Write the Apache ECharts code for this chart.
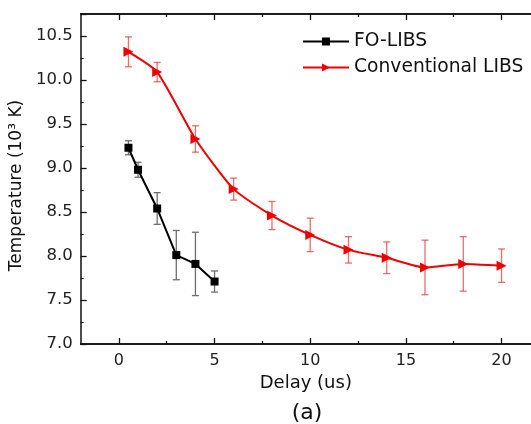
<!DOCTYPE html>
<html>
<head>
<meta charset="utf-8">
<script src="https://cdn.jsdelivr.net/npm/echarts@6/dist/echarts.min.js"></script>
<style>
  html, body { margin: 0; padding: 0; background: #fff; }
  #chart { width: 531px; height: 424px; }
</style>
</head>
<body>
<div id="chart"></div>
<script>
  // FO-LIBS
  var foDelay = [0.5, 1, 2, 3, 4, 5];
  var foTemp = [9.23, 8.98, 8.54, 8.01, 7.91, 7.71];
  var foErr = [0.08, 0.085, 0.18, 0.28, 0.36, 0.12];

  // Conventional LIBS
  var convDelay = [0.5, 2, 4, 6, 8, 10, 12, 14, 16, 18, 20];
  var convTemp = [10.32, 10.09, 9.33, 8.76, 8.46, 8.24, 8.07, 7.98, 7.87, 7.91, 7.89];
  var convErr = [0.17, 0.11, 0.15, 0.125, 0.16, 0.19, 0.15, 0.18, 0.31, 0.31, 0.19];

  // tick labels
  var xMajor = [0, 5, 10, 15, 20];
  var xMinor = [2.5, 7.5, 12.5, 17.5];

  var fontFam = '"DejaVu Sans", sans-serif';

  function pairs(xs, ys) {
    var out = [];
    for (var i = 0; i < xs.length; i++) out.push([xs[i], ys[i]]);
    return out;
  }
  function errData(xs, ys, es) {
    var out = [];
    for (var i = 0; i < xs.length; i++) out.push([xs[i], ys[i] - es[i], ys[i] + es[i]]);
    return out;
  }
  function errRender(color) {
    return function (params, api) {
      var lo = api.coord([api.value(0), api.value(1)]);
      var hi = api.coord([api.value(0), api.value(2)]);
      var w = 3.5;
      var st = { stroke: color, lineWidth: 1.3 };
      return {
        type: 'group',
        children: [
          { type: 'line', shape: { x1: lo[0], y1: lo[1], x2: hi[0], y2: hi[1] }, style: st },
          { type: 'line', shape: { x1: lo[0] - w, y1: lo[1], x2: lo[0] + w, y2: lo[1] }, style: st },
          { type: 'line', shape: { x1: hi[0] - w, y1: hi[1], x2: hi[0] + w, y2: hi[1] }, style: st }
        ]
      };
    };
  }

  var myChart = echarts.init(document.getElementById('chart'));

  // plot runs past the right edge of the picture, so max is cut at the edge
  function xAxisDef(pos, major, withLabels) {
    var ax = {
      type: 'value',
      position: pos,
      min: -2,
      max: 21.54,
      axisLine: { onZero: false, lineStyle: { color: '#111', width: 1.5 } },
      axisTick: { inside: true, length: major ? 6 : 3, customValues: major ? xMajor : xMinor,
        lineStyle: { color: '#111', width: 1.3 } },
      axisLabel: { show: false },
      splitLine: { show: false }
    };
    if (withLabels) {
      ax.name = 'Delay (us)';
      ax.nameLocation = 'middle';
      ax.nameGap = 26;
      ax.nameTextStyle = { fontFamily: fontFam, fontSize: 18, color: '#111' };
      ax.axisLabel = { show: true, customValues: xMajor, fontFamily: fontFam, fontSize: 16, color: '#222', margin: 9 };
    }
    return ax;
  }

  var option = {
    backgroundColor: '#fff',
    animation: false,
    grid: { left: 79, top: 14, right: 0, bottom: 80 },
    legend: {
      orient: 'vertical',
      left: 302,
      top: 32,
      padding: 0,
      itemWidth: 46,
      itemHeight: 10,
      itemGap: 7,
      data: ['FO-LIBS', 'Conventional LIBS'],
      textStyle: { fontFamily: fontFam, fontSize: 18.7, color: '#111' }
    },
    xAxis: [
      xAxisDef('bottom', true, true),
      xAxisDef('bottom', false, false),
      xAxisDef('top', true, false),
      xAxisDef('top', false, false)
    ],
    yAxis: {
      type: 'value',
      min: 7,
      max: 10.75,
      interval: 0.5,
      name: 'Temperature (10\u00B3 K)',
      nameLocation: 'middle',
      nameGap: 47,
      nameTextStyle: { fontFamily: fontFam, fontSize: 17, color: '#111', padding: [0, 13, 0, 0] },
      axisLine: { show: true, onZero: false, lineStyle: { color: '#111', width: 1.5 } },
      axisTick: { inside: true, length: 6, lineStyle: { color: '#111', width: 1.3 } },
      minorTick: { show: true, splitNumber: 2, length: 3, lineStyle: { color: '#111', width: 1.2 } },
      axisLabel: { fontFamily: fontFam, fontSize: 16.5, color: '#222', margin: 8, showMaxLabel: false,
        formatter: function (v) { return v.toFixed(1); } },
      splitLine: { show: false }
    },
    graphic: [{
      type: 'text',
      x: 307,
      y: 413,
      style: { text: '(a)', fontFamily: fontFam, fontSize: 22, fill: '#111', align: 'center', verticalAlign: 'middle' }
    }],
    series: [
      {
        name: 'FO-LIBS err',
        type: 'custom',
        renderItem: errRender('#6e6e6e'),
        data: errData(foDelay, foTemp, foErr),
        encode: { x: 0, y: [1, 2] },
        z: 1
      },
      {
        name: 'Conventional err',
        type: 'custom',
        renderItem: errRender('rgba(225,60,60,0.75)'),
        data: errData(convDelay, convTemp, convErr),
        encode: { x: 0, y: [1, 2] },
        z: 1
      },
      {
        name: 'FO-LIBS',
        type: 'line',
        data: pairs(foDelay, foTemp),
        symbol: 'rect',
        symbolSize: 8,
        itemStyle: { color: '#000' },
        lineStyle: { color: '#000', width: 2 },
        z: 3
      },
      {
        name: 'Conventional LIBS',
        type: 'line',
        data: pairs(convDelay, convTemp),
        smooth: 0.2,
        symbol: 'triangle',
        symbolRotate: -90,
        symbolSize: 10,
        itemStyle: { color: '#ee0000' },
        lineStyle: { color: '#ee0000', width: 2 },
        z: 3
      }
    ]
  };

  myChart.setOption(option, true);
</script>
</body>
</html>
